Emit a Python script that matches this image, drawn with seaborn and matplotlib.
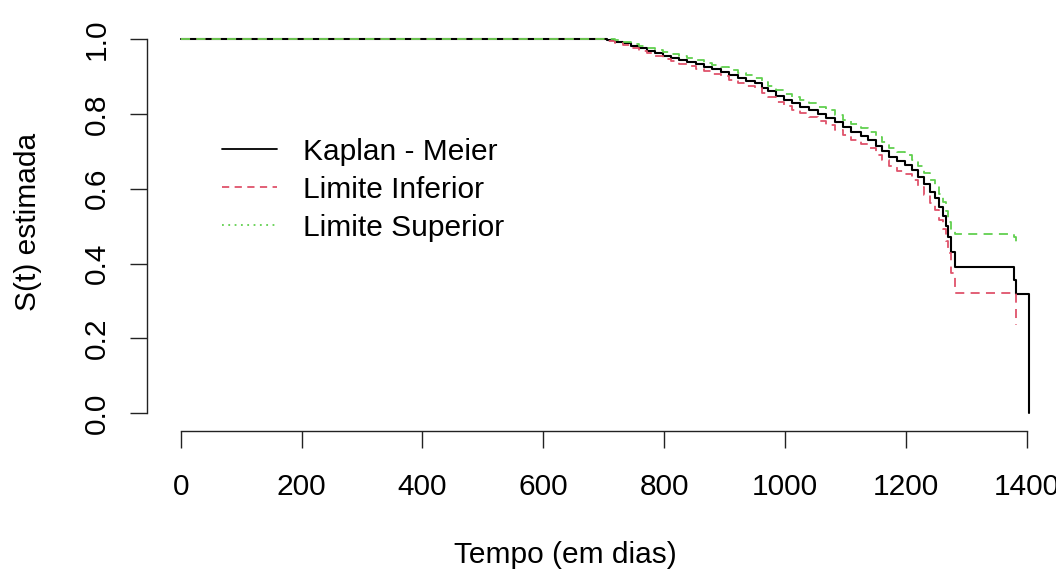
import numpy as np
import pandas as pd
import seaborn as sns
import matplotlib.pyplot as plt
from matplotlib.lines import Line2D

# Kaplan-Meier estimate with confidence limits
tempo = [0, 705, 718, 732, 745, 758, 771, 785, 798, 812, 825, 838, 852,
         866, 880, 894, 908, 922, 936, 950, 962, 972, 985, 998, 1012, 1025,
         1040, 1055, 1068, 1082, 1096, 1110, 1125, 1138, 1150, 1160, 1172,
         1185, 1198, 1210, 1220, 1230, 1240, 1248, 1255, 1261, 1266, 1270,
         1274, 1281, 1379, 1383]
km = [1.000, 0.997, 0.993, 0.988, 0.981, 0.975, 0.969, 0.962, 0.955, 0.950,
      0.944, 0.938, 0.932, 0.926, 0.919, 0.912, 0.903, 0.896, 0.889, 0.882,
      0.870, 0.860, 0.847, 0.838, 0.828, 0.819, 0.810, 0.800, 0.790, 0.777,
      0.764, 0.752, 0.741, 0.730, 0.714, 0.700, 0.685, 0.673, 0.664, 0.650,
      0.632, 0.612, 0.592, 0.575, 0.552, 0.528, 0.500, 0.470, 0.432, 0.391,
      0.356, 0.318]
inferior = [1.000, 0.994, 0.989, 0.983, 0.975, 0.968, 0.962, 0.954, 0.946,
            0.941, 0.934, 0.928, 0.921, 0.915, 0.907, 0.900, 0.890, 0.883,
            0.875, 0.868, 0.855, 0.845, 0.831, 0.822, 0.811, 0.802, 0.792,
            0.782, 0.771, 0.757, 0.744, 0.731, 0.719, 0.708, 0.691, 0.676,
            0.661, 0.648, 0.638, 0.623, 0.604, 0.582, 0.561, 0.542, 0.517,
            0.491, 0.460, 0.428, 0.375, 0.322, 0.322, 0.235]
superior = [1.000, 1.000, 0.997, 0.993, 0.987, 0.982, 0.976, 0.970, 0.964,
            0.959, 0.954, 0.948, 0.943, 0.937, 0.931, 0.924, 0.916, 0.909,
            0.903, 0.896, 0.885, 0.875, 0.863, 0.854, 0.845, 0.836, 0.828,
            0.818, 0.809, 0.797, 0.784, 0.773, 0.763, 0.752, 0.737, 0.724,
            0.709, 0.698, 0.690, 0.677, 0.660, 0.642, 0.623, 0.608, 0.587,
            0.565, 0.540, 0.512, 0.488, 0.480, 0.470, 0.449]
# last event of the KM curve (drop to zero)
tempo_final = 1403
km_final = 0.0

rotulos = ["Kaplan - Meier", "Limite Inferior", "Limite Superior"]
cores = ["black", "#DF536B", "#61D04F"]

sns.set_style("white")
plt.rcParams["font.family"] = ["Liberation Sans", "DejaVu Sans"]
plt.rcParams["text.color"] = "black"
plt.rcParams["axes.labelcolor"] = "black"
fs = 21.5

fig = plt.figure(figsize=(10.56, 5.70), dpi=100)
ax = fig.add_axes([0.1395, 0.2444, 0.8605, 0.7135])

km_df = pd.DataFrame({"t": tempo + [tempo_final], "s": km + [km_final]})
sns.lineplot(data=km_df, x="t", y="s", ax=ax, color=cores[0], lw=1.5,
             drawstyle="steps-post", estimator=None, sort=False)
sns.lineplot(x=tempo, y=inferior, ax=ax, color=cores[1], lw=1.3,
             linestyle=(0, (5, 3.5)), drawstyle="steps-post",
             estimator=None, sort=False)
sns.lineplot(x=tempo, y=superior, ax=ax, color=cores[2], lw=1.3,
             linestyle=(0, (5, 3.5)), drawstyle="steps-post",
             estimator=None, sort=False)

ax.set_xlim(-55.3, 1448.5)
ax.set_ylim(-0.0465, 1.04)
ax.set_xticks(range(0, 1401, 200))
ax.set_yticks([0.0, 0.2, 0.4, 0.6, 0.8, 1.0])
ax.set_yticklabels(["0.0", "0.2", "0.4", "0.6", "0.8", "1.0"],
                   rotation=90, va="center")

for s in ["top", "right"]:
    ax.spines[s].set_visible(False)
ax.spines["left"].set_bounds(0, 1)
ax.spines["bottom"].set_bounds(0, 1400)
for s in ["left", "bottom"]:
    ax.spines[s].set_color("#222222")
    ax.spines[s].set_linewidth(1.0)

ax.tick_params(axis="both", direction="out", length=12.2, width=1.0,
               color="#222222", labelsize=fs, labelcolor="black",
               bottom=True, left=True)
ax.tick_params(axis="x", pad=18)
ax.tick_params(axis="y", pad=14)

ax.set_xlabel("Tempo (em dias)", fontsize=fs)
ax.xaxis.set_label_coords(0.4597, -0.3056)
ax.xaxis.label.set_va("center")
ax.set_ylabel("S(t) estimada", fontsize=fs)
ax.yaxis.set_label_coords(-0.131, 0.513)
ax.yaxis.label.set_va("center")

handles = [
    Line2D([], [], color=cores[0], lw=1.3, linestyle="-"),
    Line2D([], [], color=cores[1], lw=1.3, linestyle=(0, (4, 3))),
    Line2D([], [], color=cores[2], lw=1.3, linestyle=(0, (1, 2.5))),
]
ax.legend(handles, rotulos, loc="upper left", bbox_to_anchor=(0.0822, 0.72),
          frameon=False, fontsize=fs, handlelength=1.85, handletextpad=0.87,
          labelspacing=0.33, borderpad=0, borderaxespad=0)

fig.savefig("out.png", dpi=100)
